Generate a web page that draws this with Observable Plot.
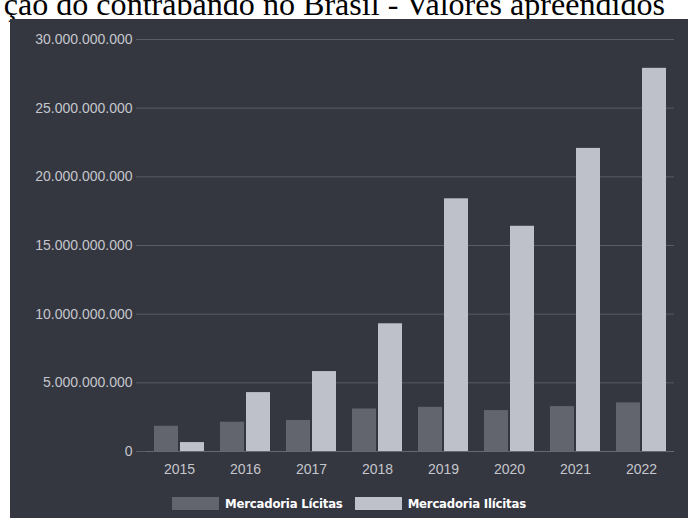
<!DOCTYPE html>
<html>
<head>
<meta charset="utf-8">
<script src="https://cdn.jsdelivr.net/npm/d3@7"></script>
<script src="https://cdn.jsdelivr.net/npm/@observablehq/plot@0.6"></script>
<style>
  html, body { margin: 0; padding: 0; background: #ffffff; width: 688px; height: 518px; overflow: hidden; }
  #title {
    position: absolute; right: 23px; top: -12px;
    font-family: "Liberation Serif", "Times New Roman", serif; font-size: 32.1px; line-height: 32px;
    color: #000; white-space: nowrap;
  }
  #panel {
    position: absolute; left: 10px; top: 19px; width: 678px; height: 499px;
    background: #343640;
  }
  #chart { position: absolute; left: 0; top: 0; }
  #legend {
    position: absolute; left: 0; top: 477px; width: 678px;
    display: flex; justify-content: center; align-items: center;
    font-family: "Liberation Sans Narrow", "DejaVu Sans Condensed", "Arial Narrow", sans-serif;
    font-weight: bold; font-size: 13px; color: #ffffff; letter-spacing: -0.2px;
  }
  .sw { width: 47px; height: 13px; margin-right: 6px; }
  .lab { margin-right: 12px; }
  .lab:last-child { margin-right: 0; }
</style>
</head>
<body>
<div id="title">ção do contrabando no Brasil - Valores apreendidos</div>
<div id="panel">
  <div id="chart"></div>
  <div id="legend"></div>
</div>
<script>
const years = ["2015", "2016", "2017", "2018", "2019", "2020", "2021", "2022"];
const licitas = [1.84e9, 2.13e9, 2.26e9, 3.10e9, 3.22e9, 2.98e9, 3.27e9, 3.54e9];
const ilicitas = [0.65e9, 4.29e9, 5.82e9, 9.30e9, 18.40e9, 16.40e9, 22.07e9, 27.90e9];
const seriesNames = ["Mercadoria Lícitas", "Mercadoria Ilícitas"];
const seriesColors = ["#62646e", "#bfc1ca"];
const yTicks = [0, 5e9, 10e9, 15e9, 20e9, 25e9, 30e9];

const textColor = "#c5c7cc";
const gridColor = "#595c66";

const locale = d3.formatLocale({decimal: ",", thousands: ".", grouping: [3], currency: ["R$", ""]});
const fmt = locale.format(",d");

const dataL = years.map((year, i) => ({year, value: licitas[i], series: seriesNames[0]}));
const dataI = years.map((year, i) => ({year, value: ilicitas[i], series: seriesNames[1]}));

const chart = Plot.plot({
  width: 678,
  height: 470,
  marginLeft: 136,
  marginRight: 14,
  marginTop: 20,
  marginBottom: 38,
  style: {background: "transparent", color: textColor, fontSize: "14px", fontFamily: "'Liberation Sans', Arial, sans-serif"},
  x: {domain: years, paddingInner: 0.24, paddingOuter: 0.12, label: null, axis: null},
  y: {domain: [0, 30e9], label: null, axis: null},
  marks: [
    Plot.gridY(yTicks, {stroke: gridColor, strokeOpacity: 1}),
    Plot.axisY(yTicks, {tickFormat: fmt, tickSize: 10, tickPadding: 4, stroke: gridColor, fill: textColor, label: null}),
    Plot.axisX({tickSize: 0, tickPadding: 13, fill: textColor, label: null}),
    Plot.barY(dataL, {x: "year", y: "value", fill: seriesColors[0], insetRight: 26}),
    Plot.barY(dataI, {x: "year", y: "value", fill: seriesColors[1], insetLeft: 26}),
    Plot.ruleY([0], {stroke: "#666973"})
  ]
});
document.getElementById("chart").appendChild(chart);

const legend = document.getElementById("legend");
seriesNames.forEach((name, i) => {
  const sw = document.createElement("div");
  sw.className = "sw";
  sw.style.background = seriesColors[i];
  const lab = document.createElement("span");
  lab.className = "lab";
  lab.textContent = name;
  legend.appendChild(sw);
  legend.appendChild(lab);
});
</script>
</body>
</html>
